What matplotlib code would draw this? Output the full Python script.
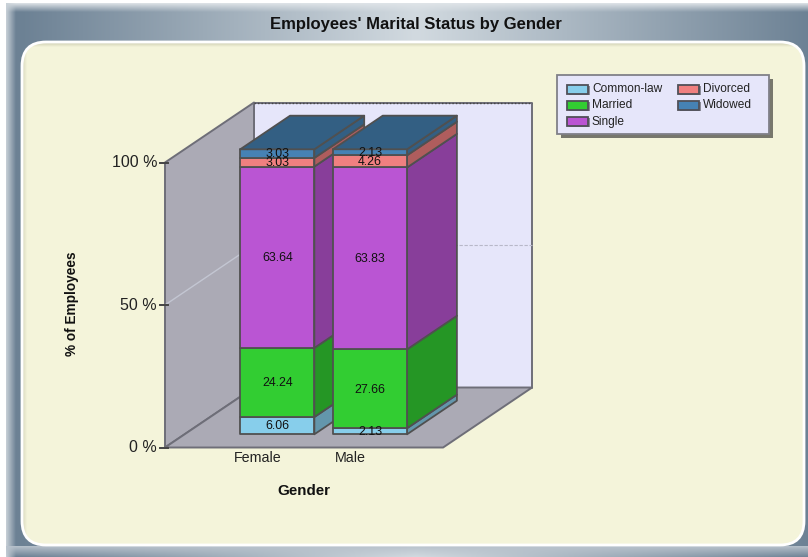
import numpy as np
import matplotlib
matplotlib.use("Agg")
import matplotlib.pyplot as plt
from matplotlib.colors import to_rgb
from matplotlib.patches import Polygon, Rectangle, FancyBboxPatch

# ---------- data ----------
categories = ["Female", "Male"]
series_names = ["Common-law", "Married", "Single", "Divorced", "Widowed"]
common_law = [6.06, 2.13]
married = [24.24, 27.66]
single = [63.64, 63.83]
divorced = [3.03, 4.26]
widowed = [3.03, 2.13]
series_values = [common_law, married, single, divorced, widowed]
series_colors = ["#87ceeb", "#32cd32", "#ba55d3", "#f08080", "#4682b4"]
legend_slots = [(0, 0), (0, 1), (0, 2), (1, 0), (1, 1)]
y_ticks = [0, 50, 100]
y_tick_labels = ["0 %", "50 %", "100 %"]
title = "Employees' Marital Status by Gender"
x_title = "Gender"
y_title = "% of Employees"

W, H = 808, 557
plt.rcParams["font.family"] = ["Liberation Sans", "DejaVu Sans"]
fig = plt.figure(figsize=(W / 100, H / 100), dpi=100, facecolor="white")
ax = fig.add_axes([0, 0, 1, 1])

# ---------- chrome ----------
def mix(a, b, t):
    a, b = np.array(to_rgb(a)), np.array(to_rgb(b))
    return a[None, None, :] * (1 - t[..., None]) + b[None, None, :] * t[..., None]

fx, fy = np.meshgrid(np.arange(6, 808) + .5, np.arange(3, 557) + .5)
t = np.clip(np.abs(fx - 416) / 395, 0, 1)
frame = mix("#d2dae0", "#6c8194", t)
top = np.clip((fy - 3) / 9, 0, 1)[..., None]
left = np.clip((fx - 6) / 10, 0, 1)[..., None]
bottom = np.where(fy > 546, np.clip((fy - 546) / 11, 0, 1), 1.0)[..., None]
frame = frame * top + (1 - top) * np.array(to_rgb("#dfe4e8"))
frame = frame * left + (1 - left) * np.array(to_rgb("#c9d1d8"))
frame = frame * bottom + (1 - bottom) * np.array(to_rgb("#b8c2cc"))
ax.imshow(frame, extent=(6, 808, 557, 3), aspect="auto", zorder=0)

PX0, PY0, PX1, PY1, RAD = 22, 42, 804, 545, 24
panel = FancyBboxPatch((PX0 + RAD, PY0 + RAD), PX1 - PX0 - 2 * RAD, PY1 - PY0 - 2 * RAD,
                       boxstyle=f"round,pad={RAD},rounding_size={RAD}",
                       fc="none", ec="white", lw=2, zorder=3)
ax.add_patch(panel)
px, py = np.meshgrid(np.arange(PX0, PX1) + .5, np.arange(PY0, PY1) + .5)
shade = np.maximum(np.clip(1 - (py - PY0) / 5, 0, 1), 0.7 * np.clip(1 - (px - PX0) / 5, 0, 1))
im = ax.imshow(mix("#f4f4da", "#c9c9ad", shade), extent=(PX0, PX1, PY1, PY0), aspect="auto", zorder=1)
im.set_clip_path(panel)

ax.set_xlim(0, W)
ax.set_ylim(H, 0)
ax.axis("off")

# ---------- 3-D oblique scales ----------
FRONT_LEFT = 165.0      # pixel x of category position -1 on front plane
CAT_STEP = 92.7         # pixels per category
BASE_Y = 447.5          # pixel y of 0 % on front plane
PCT_PX = 2.85           # pixels per percentage point
DEPTH = (89.0, -60.0)   # pixel vector across the full depth
BAR_WIDTH = 0.80
BAR_D0, BAR_D1 = 0.22, 0.78

def P(c, v, d=0.0):
    return (FRONT_LEFT + (c + 1) * CAT_STEP + d * DEPTH[0],
            BASE_Y - v * PCT_PX + d * DEPTH[1])

def dark(col, f=0.73):
    return tuple(x * f for x in to_rgb(col))

XL, XR, TOP = -1, 2, 100
wall_kw = dict(ec="#6e6e78", lw=1.4, zorder=5, joinstyle="round")
ax.add_patch(Polygon([P(XL, 0, 1), P(XR, 0, 1), P(XR, TOP, 1), P(XL, TOP, 1)], fc="#e6e6fa", **wall_kw))
ax.add_patch(Polygon([P(XL, 0), P(XL, 0, 1), P(XL, TOP, 1), P(XL, TOP)], fc="#abaab5", **wall_kw))
ax.add_patch(Polygon([P(XL, 0), P(XR, 0), P(XR, 0, 1), P(XL, 0, 1)], fc="#abaab5", **wall_kw))
ax.plot(*zip(P(XL, TOP, 1), P(XR, TOP, 1)), color="#444444", lw=1, ls=(0, (1, 1.5)), zorder=5.5)

for v, lab in zip(y_ticks, y_tick_labels):
    if 0 < v < TOP:
        ax.plot(*zip(P(XL, v), P(XL, v, 1)), color="#c3c6d2", lw=1, zorder=5.5)
        ax.plot(*zip(P(XL, v, 1), P(XR, v, 1)), color="#b8b8c8", lw=0.8, ls=(0, (3, 1.5)), zorder=5.5)
    x0, y0 = P(XL, v)
    ax.plot([x0 - 5, x0 + 3], [y0, y0], color="#444444", lw=1.4, zorder=6)
    ax.text(x0 - 8, y0, lab, ha="right", va="center", fontsize=11.5, color="#222222", zorder=6)

# ---------- bars ----------
EDGE = "#505050"
for i, cat in enumerate(categories):
    xl, xr = i - BAR_WIDTH / 2, i + BAR_WIDTH / 2
    z = 10 + i
    base = 0.0
    kw = dict(ec=EDGE, lw=1.3, zorder=z, joinstyle="round")
    for vals, col in zip(series_values, series_colors):
        v = vals[i]
        ax.add_patch(Polygon([P(xr, base, BAR_D0), P(xr, base, BAR_D1),
                              P(xr, base + v, BAR_D1), P(xr, base + v, BAR_D0)], fc=dark(col), **kw))
        ax.add_patch(Polygon([P(xl, base, BAR_D0), P(xr, base, BAR_D0),
                              P(xr, base + v, BAR_D0), P(xl, base + v, BAR_D0)], fc=col, **kw))
        cx, cy = P(i, base + v / 2, BAR_D0)
        ax.text(cx, cy + 0.8, f"{v:.2f}", ha="center", va="center", fontsize=8.9, color="#111111", zorder=z + .5)
        base += v
    ax.add_patch(Polygon([P(xl, base, BAR_D0), P(xr, base, BAR_D0),
                          P(xr, base, BAR_D1), P(xl, base, BAR_D1)], fc=dark(series_colors[-1]), **kw))
    lx, ly = P(i, 0)
    ax.text(lx, ly + 10, cat, ha="center", va="center", fontsize=10.3, color="#222222", zorder=6)

# ---------- texts ----------
ax.text(416, 24, title, ha="center", va="center", fontsize=12, fontweight="bold", color="#111111", zorder=6)
ax.text(304, 491, x_title, ha="center", va="center", fontsize=10.9, fontweight="bold", color="#111111", zorder=6)
ax.text(72, 304, y_title, ha="center", va="center", rotation=90, fontsize=9.8, fontweight="bold", color="#111111", zorder=6)

# ---------- legend ----------
LX, LY, LW, LH = 557, 75, 212, 59
ax.add_patch(Rectangle((LX + 4, LY + 4), LW, LH, fc="#77776c", ec="none", zorder=6))
ax.add_patch(Rectangle((LX, LY), LW, LH, fc="#e6e6fa", ec="#808088", lw=1.3, zorder=7))
col_x = [567, 678]
row_y = [89.5, 105.5, 121.5]
for (c, r), name, col in zip(legend_slots, series_names, series_colors):
    sx, sy = col_x[c], row_y[r]
    ax.add_patch(Rectangle((sx + 1.5, sy - 3.5), 21, 9, fc="#8a8a96", ec="none", zorder=8))
    ax.add_patch(Rectangle((sx, sy - 5), 21, 9, fc=col, ec="#505058", lw=1.3, zorder=9))
    ax.text(sx + 25, sy, name, ha="left", va="center", fontsize=8.6, color="#222222", zorder=9)

fig.savefig("out.png", dpi=100)
